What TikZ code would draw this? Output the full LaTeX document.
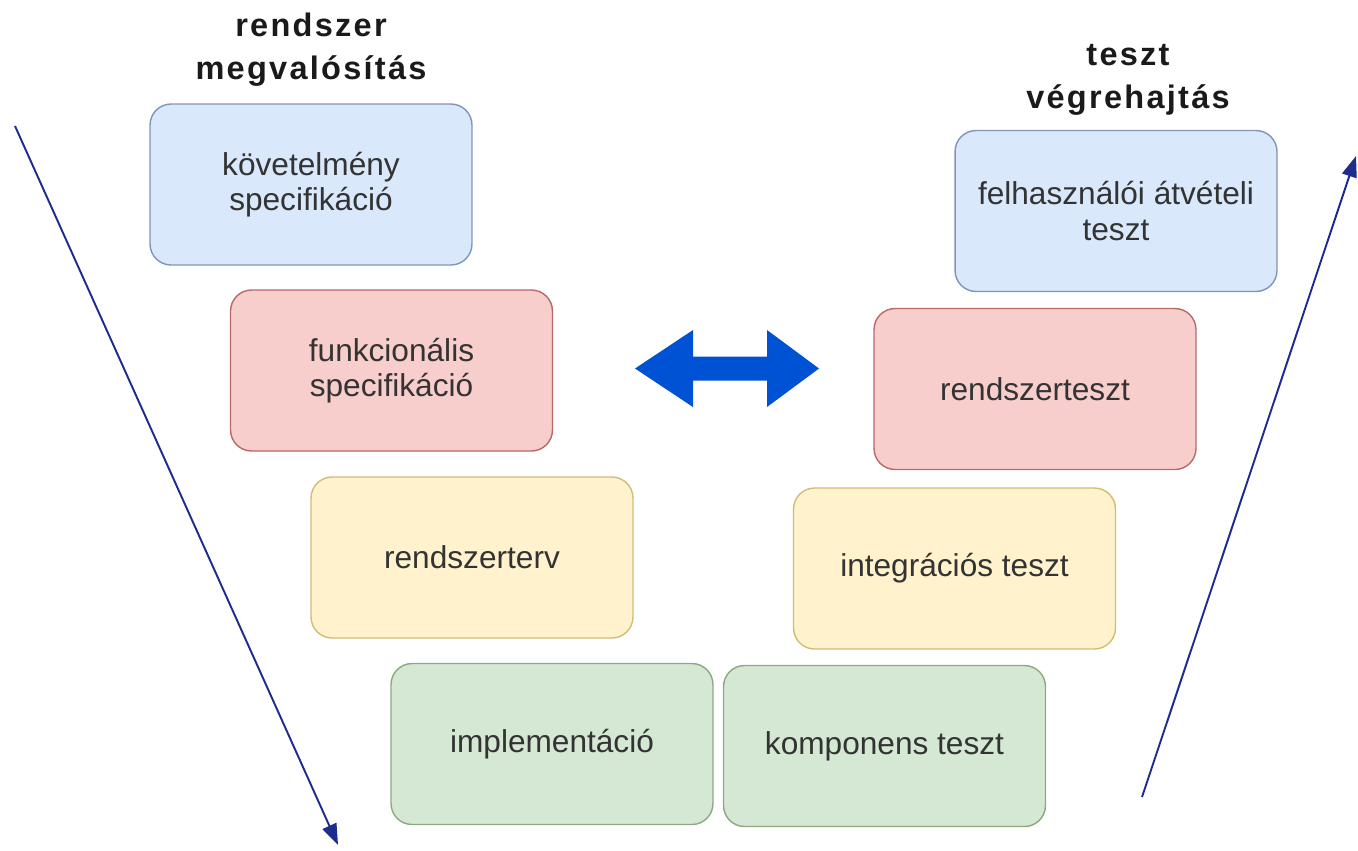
\documentclass[tikz,border=0pt]{standalone}
\usepackage{fontspec}
\setmainfont{Liberation Sans}
\usetikzlibrary{arrows.meta}

\definecolor{txt}{HTML}{333333}
\definecolor{ttl}{HTML}{1A1A1A}
\definecolor{bluefill}{HTML}{DAE8FC}\definecolor{bluedraw}{HTML}{7F95BC}
\definecolor{redfill}{HTML}{F8CECC}\definecolor{reddraw}{HTML}{B86A66}
\definecolor{yelfill}{HTML}{FFF2CC}\definecolor{yeldraw}{HTML}{D3BC76}
\definecolor{grnfill}{HTML}{D5E8D4}\definecolor{grndraw}{HTML}{8DA97F}
\definecolor{flow}{HTML}{1E2C8E}
\definecolor{bigarrow}{HTML}{0052D4}

\tikzset{
  phase/.style={rectangle, rounded corners=0.42cm, line width=0.8pt,
    minimum width=6.44cm, minimum height=3.22cm, inner sep=0pt,
    align=center, text=txt,
    font=\fontsize{18}{20}\selectfont},
  bluebox/.style={phase, fill=bluefill, draw=bluedraw},
  redbox/.style={phase, fill=redfill, draw=reddraw},
  yelbox/.style={phase, fill=yelfill, draw=yeldraw},
  grnbox/.style={phase, fill=grnfill, draw=grndraw},
  heading/.style={align=center, text=ttl, anchor=base, inner sep=0pt,
    font=\fontsize{18.5}{24.2}\selectfont\bfseries\addfontfeatures{LetterSpace=7}},
  flowline/.style={draw=flow, line width=1.1pt,
    -{Triangle[length=0.42cm, width=0.3cm]}}
}

\begin{document}
\begin{tikzpicture}[x=0.02cm, y=-0.02cm]
  \useasboundingbox (0,0) rectangle (1358,850);

  % column headings (anchored at the baseline of their last line)
  \node[heading] (left title) at (311,79) {rendszer\\megvalósítás};
  \node[heading] (right title) at (1128,108) {teszt\\végrehajtás};

  % development side
  \node[bluebox] (req)  at (311,184.5) {követelmény\\specifikáció};
  \node[redbox]  (func) at (391.5,370.5) {funkcionális\\specifikáció};
  \node[yelbox]  (sys)  at (472,557.5) {rendszerterv};
  \node[grnbox]  (impl) at (552,744) {implementáció};

  % test side
  \node[grnbox]  (comp)  at (884.5,746) {komponens teszt};
  \node[yelbox]  (integ) at (954.5,568.5) {integrációs teszt};
  \node[redbox]  (syst)  at (1035,389) {rendszerteszt};
  \node[bluebox] (accept) at (1116,211) {felhasználói átvételi\\teszt};

  % correspondence arrow between the two sides
  \coordinate (lt) at (635,368.5);
  \coordinate (rt) at (819,368.5);
  \fill[bigarrow] (lt) -- (693,330) -- (693,356.5) -- (767,356.5) -- (767,330)
     -- (rt) -- (767,407) -- (767,380.5) -- (693,380.5) -- (693,407) -- cycle;

  % direction of progress
  \coordinate (down start) at (15,126);
  \coordinate (down end) at (338,845);
  \coordinate (up start) at (1142,797);
  \coordinate (up end) at (1356,156);
  \draw[flowline] (down start) -- (down end);
  \draw[flowline] (up start) -- (up end);
\end{tikzpicture}
\end{document}
